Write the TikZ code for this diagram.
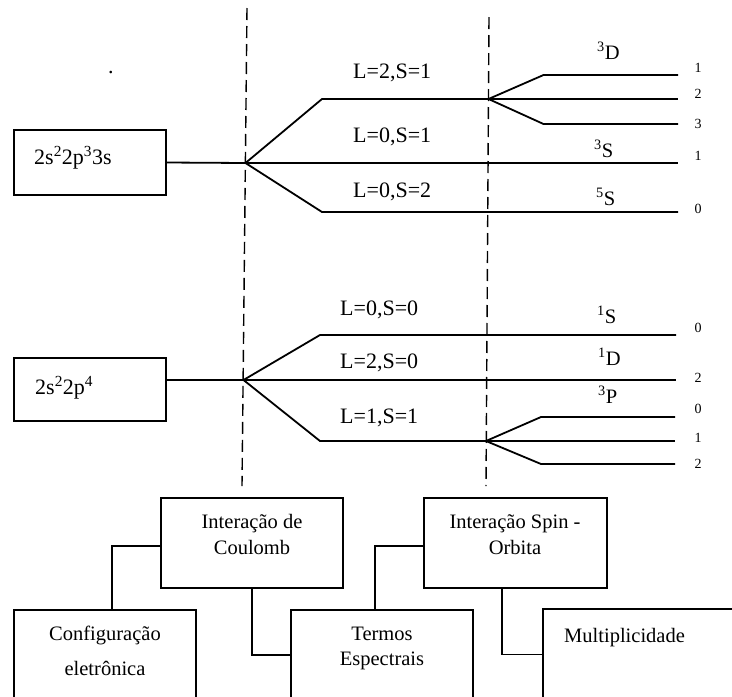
\documentclass[tikz,border=0pt]{standalone}
\usepackage{fontspec}
\setmainfont{Liberation Serif}
\usetikzlibrary{calc,positioning}
\tikzset{%
  lvl/.style={line width=1.8pt},%
  sep/.style={line width=1.4pt,dash pattern=on 12pt off 6pt},%
  box/.style={draw,line width=1.5pt,inner sep=0pt},%
  link/.style={line width=1.5pt},%
  lsym/.style={anchor=base west,inner sep=0pt,font=\fontsize{22}{26}\selectfont},%
  tsym/.style={anchor=base west,inner sep=0pt,font=\fontsize{20.5}{24}\selectfont},%
  jnum/.style={anchor=base,inner sep=0pt,font=\fontsize{14}{16}\selectfont},%
  txt/.style={anchor=base,inner sep=0pt,font=\fontsize{20.5}{24}\selectfont}}

\begin{document}
\begin{tikzpicture}[x=1pt,y=-1pt]
  \useasboundingbox (0,0) rectangle (732,697);
  \clip (0,0) rectangle (732,697);
  \coordinate (s1t) at (247,8);
  \coordinate (s1b) at (242,486);
  \coordinate (s2t) at (489,17);
  \coordinate (s2b) at (486,486);
  \draw[sep] (s1t) -- (s1b);
  \draw[sep] (s2t) -- (s2b);
  \node[lsym] (pt) at (108,73) {.};
  \node[box,minimum width=152pt,minimum height=65pt] (cfgA) at (90,162.5) {};
  \node[lsym] (cfgAt) at (34,164) {2s\textsuperscript{2}2p\textsuperscript{3}3s};
  \node[box,minimum width=152pt,minimum height=63pt] (cfgB) at (90,389.5) {};
  \node[lsym] (cfgBt) at (35,394) {2s\textsuperscript{2}2p\textsuperscript{4}};
  \coordinate (ja) at (245.5,163);
  \coordinate (jb) at (243.5,380);
  \coordinate (jc) at (488.5,99);
  \coordinate (jd) at (486,441);
  \coordinate (e1) at (678,75);
  \coordinate (e2) at (678,99);
  \coordinate (e3) at (678,124);
  \coordinate (e4) at (678,163);
  \coordinate (e5) at (678,212);
  \coordinate (f1) at (676,335);
  \coordinate (f2) at (676,380);
  \coordinate (f3) at (675,417);
  \coordinate (f4) at (675,441);
  \coordinate (f5) at (675,464);
  \draw[lvl] (cfgA.east) -- (ja);
  \draw[lvl] (ja) -- ++(76.5,-64) -- (jc) -- ++(55,-24) -- (e1);
  \draw[lvl] (jc) -- (e2);
  \draw[lvl] (jc) -- ++(55,25) -- (e3);
  \draw[lvl] (ja) -- (e4);
  \draw[lvl] (ja) -- ++(76.5,49) -- (e5);
  \draw[lvl] ($(cfgB.east)+(0,-9.5)$) -- (jb);
  \draw[lvl] (jb) -- ++(76.5,-45) -- (f1);
  \draw[lvl] (jb) -- (f2);
  \draw[lvl] (jb) -- ++(76.5,61) -- (jd) -- ++(55,-24) -- (f3);
  \draw[lvl] (jd) -- (f4);
  \draw[lvl] (jd) -- ++(55,23) -- (f5);
  \node[lsym] (la) at (353,78) {L=2,S=1};
  \node[lsym] (lb) at (353,142) {L=0,S=1};
  \node[lsym] (lc) at (353,197) {L=0,S=2};
  \node[lsym] (ld) at (340,315) {L=0,S=0};
  \node[lsym] (le) at (340,368) {L=2,S=0};
  \node[lsym] (lf) at (340,423) {L=1,S=1};
  \node[tsym] (ta) at (597,59) {\textsuperscript{3}D};
  \node[tsym] (tb) at (594,157) {\textsuperscript{3}S};
  \node[tsym] (tc) at (596,205) {\textsuperscript{5}S};
  \node[tsym] (td) at (597,323) {\textsuperscript{1}S};
  \node[tsym] (te) at (598,365) {\textsuperscript{1}D};
  \node[tsym] (tf) at (598,403) {\textsuperscript{3}P};
  \foreach \y/\j in {72/1,98/2,128/3,160/1,213/0,332/0,382/2,413/0,442/1,468/2}
    \node[jnum] (j\y) at (698,\y) {\j};
  \node[box,minimum width=182pt,minimum height=90pt] (coul) at (252,543) {};
  \node[box,minimum width=183pt,minimum height=90pt] (spin) at (515.5,543) {};
  \node[box,minimum width=182pt,minimum height=90pt] (cfg) at (105,655) {};
  \node[box,minimum width=182pt,minimum height=90pt] (trm) at (382,655) {};
  \node[box,minimum width=217pt,minimum height=91pt] (mult) at (651.5,654.5) {};
  \node[txt] (coul1) at (252,528) {Interação de};
  \node[txt] (coul2) at (252,554) {Coulomb};
  \node[txt] (spin1) at (515,528) {Interação Spin -};
  \node[txt] (spin2) at (515,554) {Orbita};
  \node[txt] (cfg1) at (105,640) {Configuração};
  \node[txt] (cfg2) at (105,675) {eletrônica};
  \node[txt] (trm1) at (382,640) {Termos};
  \node[txt] (trm2) at (382,665) {Espectrais};
  \node[txt,anchor=base west] (mult1) at (564,642) {Multiplicidade};
  \draw[link] ($(coul.west)+(0,3)$) -| ($(cfg.north)+(7,0)$);
  \draw[link] (coul.south) |- (trm.west);
  \draw[link] ($(spin.west)+(0,3)$) -| ($(trm.north)+(-7,0)$);
  \draw[link] ($(spin.south)+(-13.5,0)$) |- (mult.west);
\end{tikzpicture}
\end{document}
